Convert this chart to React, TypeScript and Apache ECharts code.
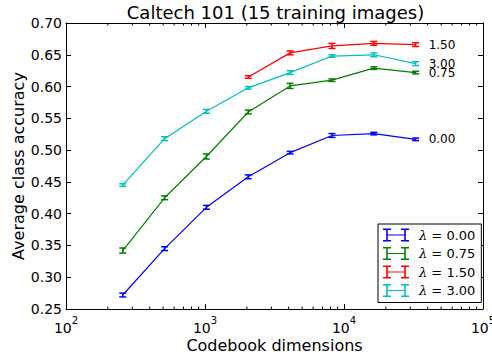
import React, { useEffect, useRef } from 'react';
import * as echarts from 'echarts';

const dims = [256, 512, 1024, 2048, 4096, 8192, 16384, 32768];
const dims150 = [2048, 4096, 8192, 16384, 32768];

const acc000 = [0.272, 0.345, 0.410, 0.458, 0.496, 0.523, 0.526, 0.517];
const err000 = [0.003, 0.003, 0.003, 0.003, 0.002, 0.003, 0.002, 0.002];
const acc075 = [0.342, 0.425, 0.490, 0.560, 0.601, 0.610, 0.629, 0.622];
const err075 = [0.004, 0.003, 0.004, 0.003, 0.004, 0.002, 0.002, 0.002];
const acc150 = [0.615, 0.653, 0.664, 0.668, 0.666];
const err150 = [0.002, 0.003, 0.004, 0.003, 0.003];
const acc300 = [0.445, 0.518, 0.561, 0.598, 0.622, 0.648, 0.650, 0.636];
const err300 = [0.002, 0.003, 0.003, 0.002, 0.003, 0.002, 0.003, 0.003];

const lambdaLabels = ['0.00', '0.75', '1.50', '3.00'];
const minorTicks = [
  200, 300, 400, 500, 600, 700, 800, 900,
  2000, 3000, 4000, 5000, 6000, 7000, 8000, 9000,
  20000, 30000, 40000, 50000, 60000, 70000, 80000, 90000,
];

const FONT = "'DejaVu Sans', sans-serif";
const ICON =
  'path://M0,0h8v1.6h-8z M3.2,0h1.6v13h-1.6z M0,11.4h8v1.6h-8z M18,0h8v1.6h-8z M21.2,0h1.6v13h-1.6z M18,11.4h8v1.6h-8z M4,5.9h18v1.2h-18z';

export default function App() {
  const ref = useRef<HTMLDivElement>(null);
  useEffect(() => {
    const chart = echarts.init(ref.current!, null, { renderer: 'svg' });
    const groups = [
      { label: lambdaLabels[0], x: dims, y: acc000, e: err000, color: '#0000ff' },
      { label: lambdaLabels[1], x: dims, y: acc075, e: err075, color: '#008000' },
      { label: lambdaLabels[2], x: dims150, y: acc150, e: err150, color: '#ff0000' },
      { label: lambdaLabels[3], x: dims, y: acc300, e: err300, color: '#00bfbf' },
    ];
    const series: any[] = [];
    groups.forEach((g) => {
      const name = 'λ = ' + g.label;
      series.push({
        type: 'line',
        name,
        data: g.x.map((d, i) => [d, g.y[i]]),
        symbol: 'none',
        showSymbol: false,
        lineStyle: { color: g.color, width: 1.2 },
        itemStyle: { color: g.color },
        endLabel: {
          show: true,
          formatter: g.label,
          distance: 13,
          fontSize: 12,
          fontFamily: FONT,
          color: '#000',
        },
        z: 2,
      });
      series.push({
        type: 'custom',
        name: name + ' err',
        data: g.x.map((d, i) => [d, g.y[i], g.e[i]]),
        encode: { x: 0, y: 1 },
        z: 3,
        renderItem: (params: any, api: any) => {
          const x = api.value(0);
          const v = api.value(1);
          const e = api.value(2);
          const t = api.coord([x, v + e]);
          const b = api.coord([x, v - e]);
          const w = 3.5;
          const st = { stroke: g.color, lineWidth: 1.5 };
          return {
            type: 'group',
            children: [
              { type: 'line', shape: { x1: t[0], y1: t[1], x2: b[0], y2: b[1] }, style: st },
              { type: 'line', shape: { x1: t[0] - w, y1: t[1], x2: t[0] + w, y2: t[1] }, style: st },
              { type: 'line', shape: { x1: b[0] - w, y1: b[1], x2: b[0] + w, y2: b[1] }, style: st },
            ],
          };
        },
      });
    });
    series.push({
      type: 'custom',
      name: 'minor ticks',
      silent: true,
      data: minorTicks.map((v) => [v, 0.5]),
      encode: { x: 0, y: 1 },
      z: 5,
      renderItem: (params: any, api: any) => {
        const px = api.coord([api.value(0), 0.5])[0];
        const cs = params.coordSys;
        const st = { stroke: '#000', lineWidth: 1 };
        return {
          type: 'group',
          children: [
            { type: 'line', shape: { x1: px, y1: cs.y + cs.height, x2: px, y2: cs.y + cs.height - 2.5 }, style: st },
            { type: 'line', shape: { x1: px, y1: cs.y, x2: px, y2: cs.y + 2.5 }, style: st },
          ],
        };
      },
    });

    const axisLine = { show: true, lineStyle: { color: '#000', width: 1 } };
    const axisTick = { show: true, inside: true, length: 5, lineStyle: { color: '#000', width: 1 } };

    chart.setOption({
      animation: false,
      backgroundColor: '#fff',
      grid: { left: 66, right: 9, top: 23, bottom: 47, containLabel: false, outerBoundsMode: 'none' },
      graphic: [
        {
          type: 'text',
          x: 275.5,
          y: 12,
          style: {
            text: 'Caltech 101 (15 training images)',
            align: 'center',
            verticalAlign: 'middle',
            fontSize: 18,
            fontFamily: FONT,
            fill: '#000',
          },
        },
      ],
      legend: {
        orient: 'vertical',
        left: 378,
        top: 224,
        padding: [4, 6, 5, 5],
        itemGap: 4.5,
        itemWidth: 26,
        itemHeight: 13,
        borderColor: '#000',
        borderWidth: 1,
        borderRadius: 0,
        backgroundColor: '#fff',
        data: groups.map((g) => ({
          name: 'λ = ' + g.label,
          icon: ICON,
          itemStyle: { color: g.color, borderWidth: 0 },
        })),
        formatter: (n: string) => '{i|λ}' + n.slice(1),
        textStyle: {
          fontSize: 13,
          lineHeight: 14,
          fontFamily: FONT,
          color: '#000',
          padding: [0, 0, 0, 5],
          rich: {
            i: { fontFamily: "'DejaVu Serif', serif", fontStyle: 'italic', fontSize: 13, color: '#000' },
          },
        },
      },
      xAxis: [
        {
          type: 'log',
          logBase: 10,
          min: 100,
          max: 100000,
          position: 'bottom',
          axisLine,
          axisTick,
          splitLine: { show: false },
          axisLabel: {
            margin: 6,
            showMinLabel: true,
            showMaxLabel: true,
            color: '#000',
            formatter: (v: number) => '{b|10}{s|' + Math.round(Math.log10(v)) + '}',
            rich: {
              b: { fontSize: 14, fontFamily: FONT, color: '#000', lineHeight: 20, verticalAlign: 'bottom' },
              s: { fontSize: 10, fontFamily: FONT, color: '#000', lineHeight: 2, verticalAlign: 'top' },
            },
          },
          name: 'Codebook dimensions',
          nameLocation: 'middle',
          nameGap: 28,
          nameMoveOverlap: false,
          nameTextStyle: { fontSize: 16, fontFamily: FONT, color: '#000' },
        },
        {
          type: 'log',
          logBase: 10,
          min: 100,
          max: 100000,
          position: 'top',
          axisLine,
          axisTick,
          splitLine: { show: false },
          axisLabel: { show: false },
        },
      ],
      yAxis: [
        {
          type: 'value',
          min: 0.25,
          max: 0.7,
          interval: 0.05,
          position: 'left',
          axisLine,
          axisTick,
          splitLine: { show: false },
          axisLabel: {
            margin: 4,
            fontSize: 14,
            fontFamily: FONT,
            color: '#000',
            showMinLabel: true,
            showMaxLabel: true,
            formatter: (v: number) => v.toFixed(2),
          },
          name: 'Average class accuracy',
          nameLocation: 'middle',
          nameGap: 40,
          nameRotate: 90,
          nameMoveOverlap: false,
          nameTextStyle: { fontSize: 16, fontFamily: FONT, color: '#000' },
        },
        {
          type: 'value',
          min: 0.25,
          max: 0.7,
          interval: 0.05,
          position: 'right',
          axisLine,
          axisTick,
          splitLine: { show: false },
          axisLabel: { show: false },
        },
      ],
      series,
    });
    return () => chart.dispose();
  }, []);
  return (
    <div
      ref={ref}
      style={{ position: 'fixed', left: 0, top: 0, width: 492, height: 356 }}
    />
  );
}
